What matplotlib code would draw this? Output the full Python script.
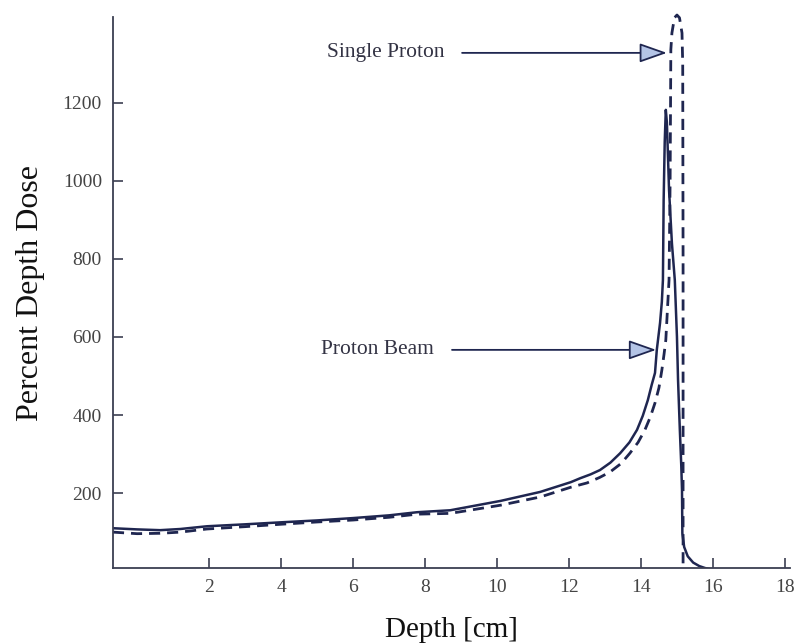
import matplotlib
matplotlib.use("Agg")
import matplotlib.pyplot as plt
from matplotlib.patches import ArrowStyle

plt.rcParams['font.family'] = ['Liberation Serif', 'DejaVu Serif']

# Proton beam (solid curve)
depth_beam = [-0.67, 0.0, 0.64, 1.2, 1.94, 3.0, 3.97, 5.0, 6.0, 7.0, 7.78, 8.7,
              10.1, 11.2, 12.05, 12.31, 12.6, 12.86, 13.15, 13.42, 13.68, 13.89,
              14.05, 14.19, 14.3, 14.39, 14.44, 14.53, 14.58, 14.61, 14.63,
              14.66, 14.69, 14.72, 14.78, 14.86, 14.94, 15.0, 15.03, 15.08,
              15.12, 15.14, 15.15, 15.2, 15.3, 15.45, 15.62, 15.78, 15.92]
dose_beam = [110, 107, 105, 108, 115, 120, 125, 130, 136, 143, 151, 156,
             180, 203, 228, 238, 248, 259, 278, 302, 330, 362,
             398, 438, 478, 508, 567, 636, 690, 746, 950,
             1100, 1182, 1150, 977, 840, 746, 600, 490, 362,
             270, 208, 97, 62, 38, 22, 13, 8, 5]

# Single proton (dashed curve)
depth_single = [-0.67, 0.0, 0.64, 1.2, 1.94, 3.0, 3.97, 5.0, 6.0, 7.0, 7.78,
                8.7, 10.1, 11.2, 12.05, 12.5, 12.85, 13.14, 13.45, 13.69, 13.92,
                14.11, 14.26, 14.39, 14.5, 14.58, 14.64, 14.69, 14.75, 14.78,
                14.81, 14.83, 14.86, 14.93, 15.0, 15.07, 15.14, 15.16, 15.17,
                15.17]
dose_single = [100, 96, 97, 100, 108, 114, 120, 126, 131, 138, 146,
               148, 169, 190, 215, 226, 240, 254, 276, 302, 330,
               362, 395, 431, 470, 515, 555, 592, 695, 746,
               1000, 1336, 1379, 1418, 1425, 1418, 1379, 1300, 800,
               8]

x_ticks = [2, 4, 6, 8, 10, 12, 14, 16, 18]
y_ticks = [200, 400, 600, 800, 1000, 1200]

line_color = '#1f2650'
axis_color = '#3c3f52'
head_fill = '#b4c4e6'

fig = plt.figure(figsize=(7.99, 6.43), dpi=100)
ax = fig.add_axes([0.1414, 0.1166, 0.8473, 0.857])

ax.plot(depth_beam, dose_beam, color=line_color, lw=1.8,
        solid_joinstyle='round')
ax.plot(depth_single, dose_single, color=line_color, lw=2.0,
        linestyle=(0, (4, 2.5)), clip_on=False)

ax.set_xlim(-0.67, 18.14)
ax.set_ylim(8, 1420)
ax.set_xticks(x_ticks)
ax.set_yticks(y_ticks)

for side in ['top', 'right']:
    ax.spines[side].set_visible(False)
for side in ['left', 'bottom']:
    ax.spines[side].set_color(axis_color)
    ax.spines[side].set_linewidth(1.3)

ax.tick_params(direction='in', length=7, width=1.2, color=axis_color,
               labelsize=14, labelcolor='#444444', pad=8)

ax.set_xlabel('Depth [cm]', fontsize=21, color='#111111', labelpad=15)
ax.set_ylabel('Percent Depth Dose', fontsize=23, color='#111111', labelpad=13)

arrow = ArrowStyle('-|>', head_length=1.7, head_width=0.6)
ax.annotate('', xy=(14.72, 1328), xytext=(9.03, 1328),
            arrowprops=dict(arrowstyle=arrow, fc=head_fill, ec=line_color,
                            lw=1.3, shrinkA=0, shrinkB=0))
ax.text(5.28, 1328, 'Single Proton', fontsize=15.5, color='#333344',
        ha='left', va='center')

ax.annotate('', xy=(14.42, 567), xytext=(8.75, 567),
            arrowprops=dict(arrowstyle=arrow, fc=head_fill, ec=line_color,
                            lw=1.3, shrinkA=0, shrinkB=0))
ax.text(5.11, 567, 'Proton Beam', fontsize=15.5, color='#333344',
        ha='left', va='center')

fig.savefig('out.png', dpi=100)
